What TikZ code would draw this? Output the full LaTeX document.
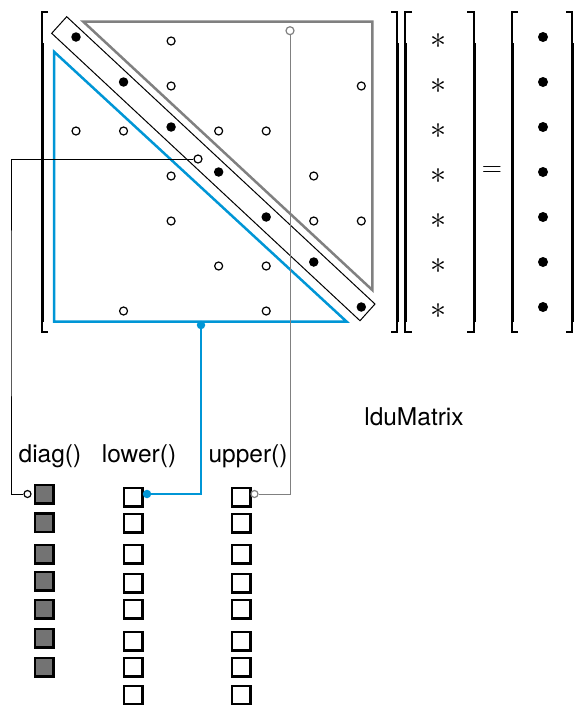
\RequirePackage{fix-cm}
\documentclass[tikz,border=0pt]{standalone}
\usepackage{fontspec}
\setsansfont{TeX Gyre Heros}
\definecolor{lblue}{RGB}{0,150,214}
\definecolor{ugray}{RGB}{128,128,128}
\definecolor{dfill}{RGB}{115,115,115}
\begin{document}
\begin{tikzpicture}[x=1pt,y=-1pt,
    opendot/.style={circle, draw, line width=1.2pt, fill=white, inner sep=0pt, minimum size=8pt},
    fulldot/.style={circle, fill=black, inner sep=0pt, minimum size=9.5pt},
    bluedot/.style={circle, fill=lblue, inner sep=0pt, minimum size=8.5pt},
    dsq/.style={draw, line width=2.5pt, fill=dfill, inner sep=0pt, minimum size=18.5pt},
    osq/.style={draw, line width=2.5pt, fill=white, inner sep=0pt, minimum size=18.5pt},
    lab/.style={font=\sffamily\fontsize{24.5}{28}\selectfont, anchor=base}]
    \useasboundingbox (0,0) rectangle (578,705);
    % Brackets
    \foreach \bx/\bt in {42/6, 397/-6, 405/7, 474/-7, 512/6, 572/-6} {
        \draw[line width=1.2pt] (\bx+\bt,12) -- (\bx,12) -- (\bx,332) -- (\bx+\bt,332);
        \draw[line width=3pt] (\bx,43) -- (\bx,322);
    }
    % Triangles and diagonal band
    \draw[ugray, line width=2.5pt] (83.3,21.7) -- (372.3,21.7) -- (372.3,290) -- cycle;
    \draw[lblue, line width=2.5pt] (54,51.7) -- (54,321.7) -- (346.7,321.7) -- cycle;
    \draw[line width=1pt] (51.7,33.3) -- (66.7,16.7) -- (375,304) -- (360,320.7) -- cycle;
    % Off-diagonal entries
    \foreach \r/\c in {1/3,2/3,2/7,3/1,3/2,3/4,3/5,4/3,4/6,5/3,5/6,5/7,6/4,6/5,7/2,7/5}
        \node[opendot] (o\r\c) at ({76+47.55*(\c-1)},{41+45*(\r-1)}) {};
    % Diagonal, vectors
    \foreach \i in {1,...,7} {
        \node[fulldot] (d\i) at ({76+47.55*(\i-1)},{37+45*(\i-1)}) {};
        \node (x\i) at (438,{41+45*(\i-1)}) {\fontsize{32}{32}\selectfont$\ast$};
        \node[fulldot, minimum size=10pt] (b\i) at (543,{37+45*(\i-1)}) {};
    }
    \node (eq) at (492,172) {\fontsize{28}{28}\selectfont$=$};
    % Storage arrays
    \foreach \y [count=\k] in {494,522.5,554,581,609,638,667}
        \node[dsq] (dg\k) at (44,\y) {};
    \foreach \y [count=\k] in {497,523,554,583,609,641,667,695} {
        \node[osq] (lw\k) at (133,\y) {};
        \node[osq] (up\k) at (241,\y) {};
    }
    % Labels
    \node[lab] (dglab) at (50,462) {diag()};
    \node[lab] (lwlab) at (139,462) {lower()};
    \node[lab] (uplab) at (248,462) {upper()};
    \node[lab] (title) at (414,425.7) {lduMatrix};
    % Connectors
    \node[opendot] (dgsrc) at (198,159) {};
    \node[opendot, minimum size=7pt] (dgend) at (27.5,494) {};
    \coordinate (dgbend) at (11,300);
    \draw (dgsrc) -| (dgbend) |- (dgend);
    \node[bluedot] (lwsrc) at (201,325) {};
    \node[bluedot] (lwend) at (147,494) {};
    \draw[lblue, line width=1.2pt] (lwsrc) |- (lwend);
    \node[opendot, draw=ugray] (upsrc) at (290,30.7) {};
    \node[opendot, draw=ugray, minimum size=7pt] (upend) at (254.5,494) {};
    \draw[ugray] (upsrc) |- (upend);
\end{tikzpicture}
\end{document}
